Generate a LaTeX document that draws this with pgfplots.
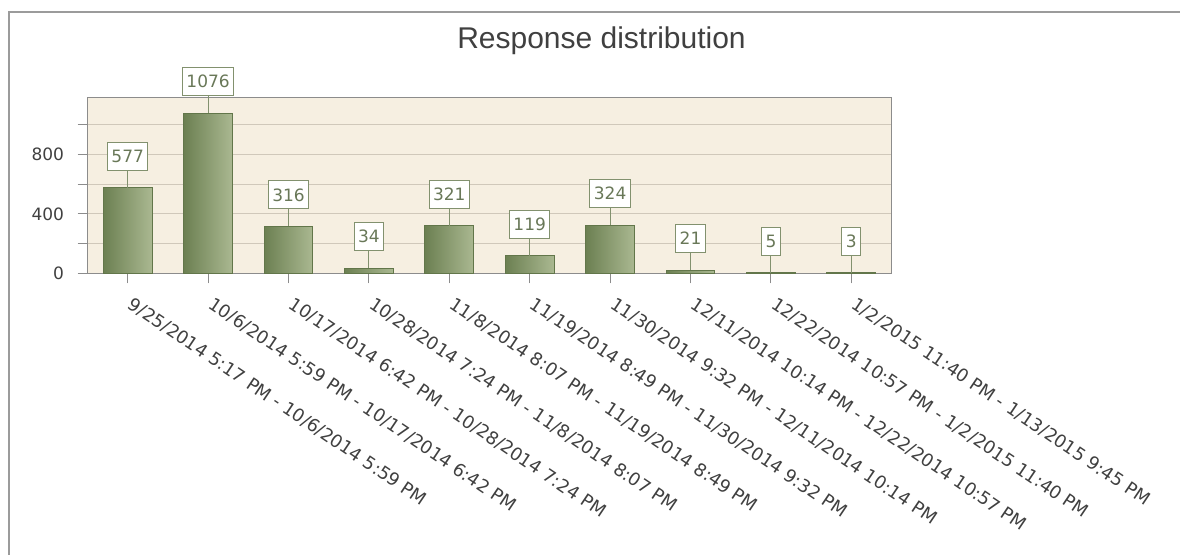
\documentclass[border=0pt]{standalone}
\usepackage{pgfplots}
\pgfplotsset{compat=1.18}
\usepackage{fontspec}
\setmainfont{DejaVu Sans}
\newfontfamily\titlefont{Liberation Sans}
\definecolor{barL}{RGB}{108,128,82}
\definecolor{barR}{RGB}{170,184,145}
\definecolor{barD}{RGB}{98,118,74}
\definecolor{bg}{RGB}{246,239,225}
\definecolor{gridc}{RGB}{208,200,186}
\definecolor{lab}{RGB}{130,145,110}
\definecolor{labtxt}{RGB}{105,120,88}
\definecolor{txt}{RGB}{64,64,64}
\definecolor{frame}{RGB}{155,155,155}
\definecolor{axc}{RGB}{140,140,140}

\pgfplotsset{
  mybar/.style={ybar, bar shift=0pt, bar width=48.7pt, draw=barD, line width=1pt,
    left color=barL, right color=barR,
    nodes near coords,
    every node near coord/.append style={anchor=south, yshift=17pt, draw=lab, fill=white, text=labtxt,
      line width=1pt, inner xsep=4pt, inner ysep=0pt, minimum height=28pt,
      font=\fontsize{17}{20}\selectfont,
      append after command={\pgfextra{\draw[lab, line width=1pt] (\tikzlastnode.south) -- ++(0pt,-17pt);}}}
  }
}

\begin{document}
\begin{tikzpicture}
\useasboundingbox (0pt,0pt) rectangle (1180pt,-554pt);
\draw[frame, line width=2pt] (9pt,-560pt) -- (9pt,-12pt) -- (1190pt,-12pt);
\node[anchor=base, font=\titlefont\fontsize{30}{35}\selectfont, text=txt, inner sep=0pt] at (601.5pt,-48pt) {Response distribution};
\begin{axis}[
  at={(87.5pt,-273.3pt)}, anchor=south west,
  scale only axis, width=804pt, height=176pt,
  xmin=-0.5, xmax=9.5, ymin=0, ymax=1183.6,
  axis background/.style={fill=bg},
  axis line style={axc, line width=1pt},
  ymajorgrids, grid style={gridc, line width=1pt},
  ytick={0,200,400,600,800,1000},
  yticklabels={0,,400,,800,},
  xtick={0,1,2,3,4,5,6,7,8,9},
  xticklabels={
    9/25/2014 5:17 PM - 10/6/2014 5:59 PM,
    10/6/2014 5:59 PM - 10/17/2014 6:42 PM,
    10/17/2014 6:42 PM - 10/28/2014 7:24 PM,
    10/28/2014 7:24 PM - 11/8/2014 8:07 PM,
    11/8/2014 8:07 PM - 11/19/2014 8:49 PM,
    11/19/2014 8:49 PM - 11/30/2014 9:32 PM,
    11/30/2014 9:32 PM - 12/11/2014 10:14 PM,
    12/11/2014 10:14 PM - 12/22/2014 10:57 PM,
    12/22/2014 10:57 PM - 1/2/2015 11:40 PM,
    1/2/2015 11:40 PM - 1/13/2015 9:45 PM},
  xtick pos=bottom, ytick pos=left,
  tick align=outside, major tick length=10pt,
  tick style={axc, line width=1pt},
  ticklabel style={font=\fontsize{17}{20}\selectfont, text=txt},
  x tick label style={font=\fontsize{17.8}{21}\selectfont, xshift=6pt, yshift=-10pt, rotate=-34, anchor=north west, inner sep=2pt},
  y tick label style={xshift=-10pt},
  /pgf/number format/.cd, 1000 sep={}, assume math mode=true,
  /pgfplots/.cd,
]
\addplot[mybar] coordinates {(0,577)};
\addplot[mybar] coordinates {(1,1076)};
\addplot[mybar] coordinates {(2,316)};
\addplot[mybar] coordinates {(3,34)};
\addplot[mybar] coordinates {(4,321)};
\addplot[mybar] coordinates {(5,119)};
\addplot[mybar] coordinates {(6,324)};
\addplot[mybar] coordinates {(7,21)};
\addplot[mybar] coordinates {(8,5)};
\addplot[mybar] coordinates {(9,3)};
\end{axis}
\end{tikzpicture}
\end{document}
